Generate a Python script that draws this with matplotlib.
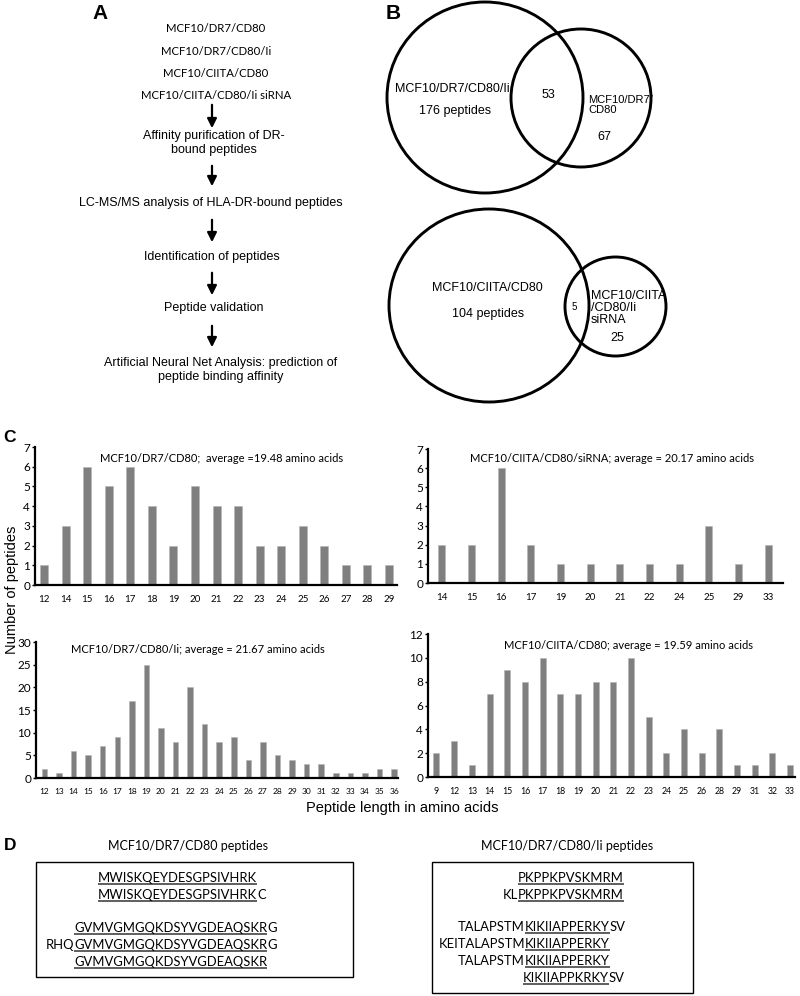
import numpy as np
import matplotlib.pyplot as plt
from matplotlib.patches import Ellipse, Rectangle

W, H = 800, 996
ARIAL = 'Liberation Sans'
CALI = 'Lato'

# ---------- panel C data ----------
len_dr7 = [12, 14, 15, 16, 17, 18, 19, 20, 21, 22, 23, 24, 25, 26, 27, 28, 29]
cnt_dr7 = [1, 3, 6, 5, 6, 4, 2, 5, 4, 4, 2, 2, 3, 2, 1, 1, 1]

len_sirna = [14, 15, 16, 17, 19, 20, 21, 22, 24, 25, 29, 33]
cnt_sirna = [2, 2, 6, 2, 1, 1, 1, 1, 1, 3, 1, 2]

len_ii = list(range(12, 37))
cnt_ii = [2, 1, 6, 5, 7, 9, 17, 25, 11, 8, 20, 12, 8, 9, 4, 8, 5, 4, 3, 3, 1, 1, 1, 2, 2]

len_ciita = [9, 12, 13, 14, 15, 16, 17, 18, 19, 20, 21, 22, 23, 24, 25, 26, 28, 29, 31, 32, 33]
cnt_ciita = [2, 3, 1, 7, 9, 8, 10, 7, 7, 8, 8, 10, 5, 2, 4, 2, 4, 1, 1, 2, 1]

# ---------- panel A / B / D text ----------
cell_lines = ['MCF10/DR7/CD80', 'MCF10/DR7/CD80/Ii', 'MCF10/CIITA/CD80', 'MCF10/CIITA/CD80/Ii siRNA']
steps = ['Affinity purification of DR-\nbound peptides',
         'LC-MS/MS analysis of HLA-DR-bound peptides',
         'Identification of peptides',
         'Peptide validation',
         'Artificial Neural Net Analysis: prediction of\npeptide binding affinity']

venn1 = {'big': 'MCF10/DR7/CD80/Ii', 'big_n': '176 peptides', 'both': '53',
         'small': 'MCF10/DR7/\nCD80', 'small_n': '67'}
venn2 = {'big': 'MCF10/CIITA/CD80', 'big_n': '104 peptides', 'both': '5',
         'small': 'MCF10/CIITA\n/CD80/Ii\nsiRNA', 'small_n': '25'}

# (prefix, underlined core, suffix)
seqs_dr7 = [('', 'MWISKQEYDESGPSIVHRK', ''),
            ('', 'MWISKQEYDESGPSIVHRK', 'C'),
            ('', 'GVMVGMGQKDSYVGDEAQSKR', 'G'),
            ('RHQ', 'GVMVGMGQKDSYVGDEAQSKR', 'G'),
            ('', 'GVMVGMGQKDSYVGDEAQSKR', '')]
seqs_ii = [('', 'PKPPKPVSKMRM', ''),
           ('KL', 'PKPPKPVSKMRM', ''),
           ('TALAPSTM', 'KIKIIAPPERKY', 'SV'),
           ('KEITALAPSTM', 'KIKIIAPPERKY', ''),
           ('TALAPSTM', 'KIKIIAPPERKY', ''),
           ('', 'KIKIIAPPKRKY', 'SV')]

fig = plt.figure(figsize=(W / 100, H / 100), dpi=100)
ov = fig.add_axes([0, 0, 1, 1])
ov.set_xlim(0, W)
ov.set_ylim(H, 0)
ov.axis('off')


def txt(x, y, s, size, family=ARIAL, **kw):
    kw.setdefault('ha', 'center')
    kw.setdefault('va', 'center')
    return ov.text(x, y, s, fontsize=size, family=family, **kw)


# ---------- panel labels ----------
txt(100, 13, 'A', 15, weight='bold')
txt(393, 13, 'B', 15, weight='bold')
txt(10, 437, 'C', 12.5, weight='bold')
txt(10, 845, 'D', 12.5, weight='bold')

# ---------- panel A ----------
for y, s in zip([28, 51, 73, 95], cell_lines):
    txt(216, y, s, 8.2, family=CALI)
step_y = [143, 203, 257, 308, 370]
step_x = [214, 211, 212, 214, 221]
for x, y, s in zip(step_x, step_y, steps):
    txt(x, y, s, 9, linespacing=1.25)
for y0, y1 in [(102, 131), (163, 189), (217, 245), (270, 298), (323, 350)]:
    ov.annotate('', xy=(212, y1), xytext=(212, y0),
                arrowprops=dict(arrowstyle='-|>', lw=1.6, color='k', mutation_scale=14))

# ---------- panel B ----------
for (cx, cy, rx, ry) in [(485, 97.5, 98, 95.5), (581, 98, 70, 69),
                         (489, 305.5, 100, 96.5), (615.5, 306.5, 50.5, 49.5)]:
    ov.add_patch(Ellipse((cx, cy), 2 * rx, 2 * ry, fill=False, lw=2.1, ec='k'))

txt(452, 89, venn1['big'], 9)
txt(455, 111, venn1['big_n'], 9)
txt(548, 95, venn1['both'], 9)
txt(588, 105, venn1['small'], 8, ha='left', linespacing=1.1)
txt(604, 137, venn1['small_n'], 9)

txt(487, 288, venn2['big'], 9)
txt(488, 314, venn2['big_n'], 9)
txt(574, 307, venn2['both'], 7)
txt(591, 308, venn2['small'], 9, ha='left', linespacing=1.05)
txt(617, 338, venn2['small_n'], 9)


# ---------- panel C ----------
def hist_panel(box, cats, vals, ymax, ystep, xlim, width, tsize, title, title_xy):
    x0, y0, x1, y1 = box
    ax = fig.add_axes([x0 / W, 1 - y1 / H, (x1 - x0) / W, (y1 - y0) / H])
    ax.set_facecolor('none')
    pos = np.arange(len(cats))
    ax.bar(pos, vals, width=width, color='#7f7f7f', edgecolor='#b5b5b5', linewidth=0.4)
    ax.set_xlim(*xlim)
    ax.set_ylim(0, ymax)
    ax.set_yticks(np.arange(0, ymax + 0.1, ystep))
    ax.set_xticks(pos, [str(c) for c in cats])
    for s in ['top', 'right']:
        ax.spines[s].set_visible(False)
    for s in ['left', 'bottom']:
        ax.spines[s].set_linewidth(1.6)
    ax.tick_params(axis='x', length=0, pad=7, labelsize=tsize)
    ax.tick_params(axis='y', length=2.5, width=1, pad=1, labelsize=8.5)
    for lab in ax.get_xticklabels() + ax.get_yticklabels():
        lab.set_family(CALI)
    txt(title_xy[0], title_xy[1], title, 8, family=CALI)
    return ax


hist_panel((35, 447, 397, 585), len_dr7, cnt_dr7, 7, 1, (-0.42, 16.37), 0.37, 7,
           'MCF10/DR7/CD80;  average =19.48 amino acids', (222, 458))
hist_panel((428, 449, 783, 583), len_sirna, cnt_sirna, 7, 1, (-0.47, 11.5), 0.24, 7,
           'MCF10/CIITA/CD80/siRNA; average = 20.17 amino acids', (612, 458))
hist_panel((36, 642, 398, 778), len_ii, cnt_ii, 30, 5, (-0.58, 24.27), 0.38, 6,
           'MCF10/DR7/CD80/Ii; average = 21.67 amino acids', (198, 649))
hist_panel((428, 634, 795, 777), len_ciita, cnt_ciita, 12, 2, (-0.48, 20.28), 0.34, 6.3,
           'MCF10/CIITA/CD80; average = 19.59 amino acids', (629, 645))

txt(12, 590, 'Number of peptides', 10.5, rotation=90)
txt(402, 808, 'Peptide length in amino acids', 10.5)

# ---------- panel D ----------
txt(188, 846, 'MCF10/DR7/CD80 peptides', 9, family=CALI)
txt(567, 846, 'MCF10/DR7/CD80/Ii peptides', 9, family=CALI)
ov.add_patch(Rectangle((36, 862), 317, 115, fill=False, lw=1, ec='k'))
ov.add_patch(Rectangle((432, 862), 261, 131, fill=False, lw=1, ec='k'))

seq_rows = []
for (pre, core, suf), y, ax_x in zip(seqs_dr7, [882, 899, 932, 949, 966], [98, 98, 74, 74, 74]):
    seq_rows.append((pre, core, suf, y, ax_x))
for (pre, core, suf), y, ax_x in zip(seqs_ii, [882, 899, 931, 948, 965, 982], [518, 518, 525, 525, 525, 523]):
    seq_rows.append((pre, core, suf, y, ax_x))

SEQ_FS = 9.4
cores = []
for pre, core, suf, y, ax_x in seq_rows:
    if pre:
        txt(ax_x, y, pre, SEQ_FS, family=CALI, ha='right', va='baseline')
    t = txt(ax_x, y, core, SEQ_FS, family=CALI, ha='left', va='baseline')
    cores.append((t, suf, y, ax_x))

fig.canvas.draw()
rend = fig.canvas.get_renderer()
inv = ov.transData.inverted()
for t, suf, y, ax_x in cores:
    bb = t.get_window_extent(rend)
    (xa, _), (xb, _) = inv.transform([(bb.x0, bb.y0), (bb.x1, bb.y0)])
    ov.plot([xa, xb], [y + 2, y + 2], color='#333333', lw=1.1, solid_capstyle='butt')
    if suf:
        txt(xb, y, suf, SEQ_FS, family=CALI, ha='left', va='baseline')

fig.savefig('out.png', dpi=100)
